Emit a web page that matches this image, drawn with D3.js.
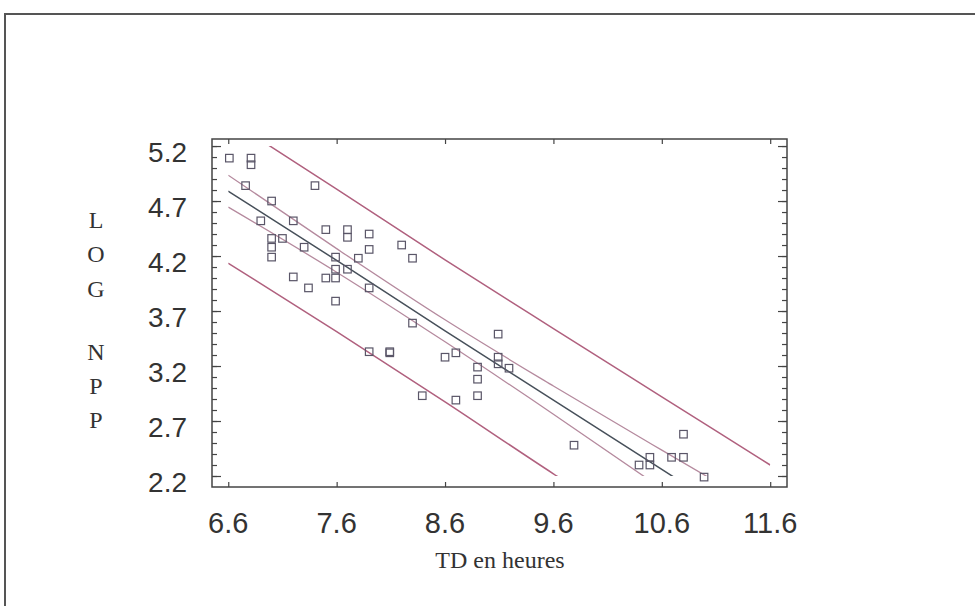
<!DOCTYPE html>
<html>
<head>
<meta charset="utf-8">
<script src="https://cdn.jsdelivr.net/npm/d3@7"></script>
<style>
  body { margin: 0; background: #fff; }
  svg { display: block; }
</style>
</head>
<body>
<div id="chart"></div>
<script>
// observations : TD (heures) vs log NPP
const tdHours = [6.61, 6.81, 6.81, 6.76, 7.40, 7.00, 6.90, 7.20, 7.50, 7.70,
  7.70, 7.90, 7.90, 8.20, 7.00, 7.10, 7.00, 7.00, 7.30, 7.59,
  7.80, 7.59, 7.70, 7.20, 7.50, 7.59, 7.34, 7.90, 7.59, 8.30,
  7.90, 8.09, 8.09, 8.30, 9.09, 8.60, 8.70, 9.09, 9.09, 9.19,
  8.90, 8.90, 8.90, 8.39, 8.70, 9.79, 10.80, 10.49, 10.39, 10.49,
  10.69, 10.80, 10.99];
const logNpp = [5.09, 5.09, 5.03, 4.84, 4.84, 4.70, 4.52, 4.52, 4.44, 4.44,
  4.37, 4.40, 4.26, 4.30, 4.36, 4.36, 4.28, 4.19, 4.28, 4.19,
  4.18, 4.08, 4.08, 4.01, 4.00, 4.00, 3.91, 3.91, 3.79, 4.18,
  3.33, 3.33, 3.32, 3.59, 3.49, 3.28, 3.32, 3.28, 3.22, 3.18,
  3.19, 3.08, 2.93, 2.93, 2.89, 2.48, 2.58, 2.37, 2.30, 2.30,
  2.37, 2.37, 2.19];

// regression line and bands read at these x positions
const bandX = [6.6, 7.6, 8.6, 9.6, 10.6, 11.6];
const fitLine = [4.79, 4.16, 3.52, 2.89, 2.26, 1.63];
const confUpper = [4.935, 4.267, 3.62, 3.018, 2.435, 1.86];
const confLower = [4.645, 4.053, 3.42, 2.762, 2.085, 1.40];
const predUpper = [5.445, 4.808, 4.165, 3.54, 2.92, 2.30];
const predLower = [4.135, 3.512, 2.875, 2.22, 1.60, 0.96];

const xTicks = [6.6, 7.6, 8.6, 9.6, 10.6, 11.6];
const yTicks = [2.2, 2.7, 3.2, 3.7, 4.2, 4.7, 5.2];
const yTitle = ['L', 'O', 'G', '', 'N', 'P', 'P'];
const xTitle = 'TD en heures';

const width = 975, height = 606;
const plot = { left: 212, right: 787, top: 139, bottom: 487 };

const svg = d3.select('#chart').append('svg')
  .attr('width', width)
  .attr('height', height);

// scanned page frame
svg.append('path')
  .attr('d', 'M5,606 L5,14 L975,14')
  .attr('fill', 'none')
  .attr('stroke', '#555')
  .attr('stroke-width', 2);

const x = d3.scaleLinear().domain([6.45, 11.755]).range([plot.left, plot.right]);
const y = d3.scaleLinear().domain([2.1, 5.264]).range([plot.bottom, plot.top]);

// minor ticks every 0.1 on the y axis
const yMinor = d3.range(22, 53).map(d => d / 10);

const axisColor = '#444';
const tickFont = '"Liberation Sans", Arial, sans-serif';

// left axis
const gLeft = svg.append('g').attr('transform', `translate(${plot.left},0)`);
gLeft.call(d3.axisRight(y).tickValues(yMinor).tickSize(5).tickFormat(''));
gLeft.append('g').call(d3.axisRight(y).tickValues(yTicks).tickSize(9).tickFormat(''));

// right axis
const gRight = svg.append('g').attr('transform', `translate(${plot.right},0)`);
gRight.call(d3.axisLeft(y).tickValues(yMinor).tickSize(5).tickFormat(''));
gRight.append('g').call(d3.axisLeft(y).tickValues(yTicks).tickSize(9).tickFormat(''));

// bottom and top axes
svg.append('g').attr('transform', `translate(0,${plot.bottom})`)
  .call(d3.axisTop(x).tickValues(xTicks).tickSize(5).tickFormat(''));
svg.append('g').attr('transform', `translate(0,${plot.top})`)
  .call(d3.axisBottom(x).tickValues(xTicks).tickSize(5).tickFormat(''));

svg.selectAll('.domain').remove();
svg.selectAll('.tick line').attr('stroke', axisColor).attr('stroke-width', 1.2);

svg.append('rect')
  .attr('x', plot.left).attr('y', plot.top)
  .attr('width', plot.right - plot.left)
  .attr('height', plot.bottom - plot.top)
  .attr('fill', 'none')
  .attr('stroke', axisColor)
  .attr('stroke-width', 1.5);

// tick labels
svg.append('g').selectAll('text')
  .data(yTicks)
  .join('text')
  .attr('x', 187)
  .attr('y', d => y(d) + 16)
  .attr('text-anchor', 'end')
  .attr('font-family', tickFont)
  .attr('font-size', 28)
  .attr('fill', '#333')
  .text(d => d.toFixed(1));

svg.append('g').selectAll('text')
  .data(xTicks)
  .join('text')
  .attr('x', d => x(d))
  .attr('y', 533)
  .attr('text-anchor', 'middle')
  .attr('font-family', tickFont)
  .attr('font-size', 29)
  .attr('fill', '#333')
  .text(d => d.toFixed(1));

// axis titles
const serif = '"Liberation Serif", "Times New Roman", serif';
const titleY = [228, 262, 297, 330, 360, 394, 428];
svg.append('g').selectAll('text')
  .data(yTitle)
  .join('text')
  .attr('x', 96)
  .attr('y', (d, i) => titleY[i])
  .attr('text-anchor', 'middle')
  .attr('font-family', serif)
  .attr('font-size', 24)
  .attr('fill', '#333')
  .text(d => d);

svg.append('text')
  .attr('x', 500)
  .attr('y', 568)
  .attr('text-anchor', 'middle')
  .attr('font-family', serif)
  .attr('font-size', 24)
  .attr('fill', '#333')
  .text(xTitle);

// lines are kept inside the tick range box
svg.append('clipPath').attr('id', 'band-clip')
  .append('rect')
  .attr('x', x(6.6)).attr('y', y(5.2))
  .attr('width', x(11.6) - x(6.6))
  .attr('height', y(2.2) - y(5.2));

const line = d3.line()
  .x(d => x(d[0]))
  .y(d => y(d[1]))
  .curve(d3.curveMonotoneX);

const bands = [
  { values: predUpper, color: '#b0607e', w: 1.5 },
  { values: predLower, color: '#b0607e', w: 1.5 },
  { values: confUpper, color: '#b58a9e', w: 1.3 },
  { values: confLower, color: '#b58a9e', w: 1.3 },
  { values: fitLine, color: '#47505a', w: 1.5 }
];

svg.append('g').attr('clip-path', 'url(#band-clip)')
  .selectAll('path')
  .data(bands)
  .join('path')
  .attr('d', b => line(bandX.map((v, i) => [v, b.values[i]])))
  .attr('fill', 'none')
  .attr('stroke', b => b.color)
  .attr('stroke-width', b => b.w);

// observation markers
const s = 7.5;
svg.append('g').selectAll('rect')
  .data(tdHours.map((v, i) => [v, logNpp[i]]))
  .join('rect')
  .attr('x', d => x(d[0]) - s / 2)
  .attr('y', d => y(d[1]) - s / 2)
  .attr('width', s)
  .attr('height', s)
  .attr('fill', 'none')
  .attr('stroke', '#5a5668')
  .attr('stroke-width', 1.2);
</script>
</body>
</html>
